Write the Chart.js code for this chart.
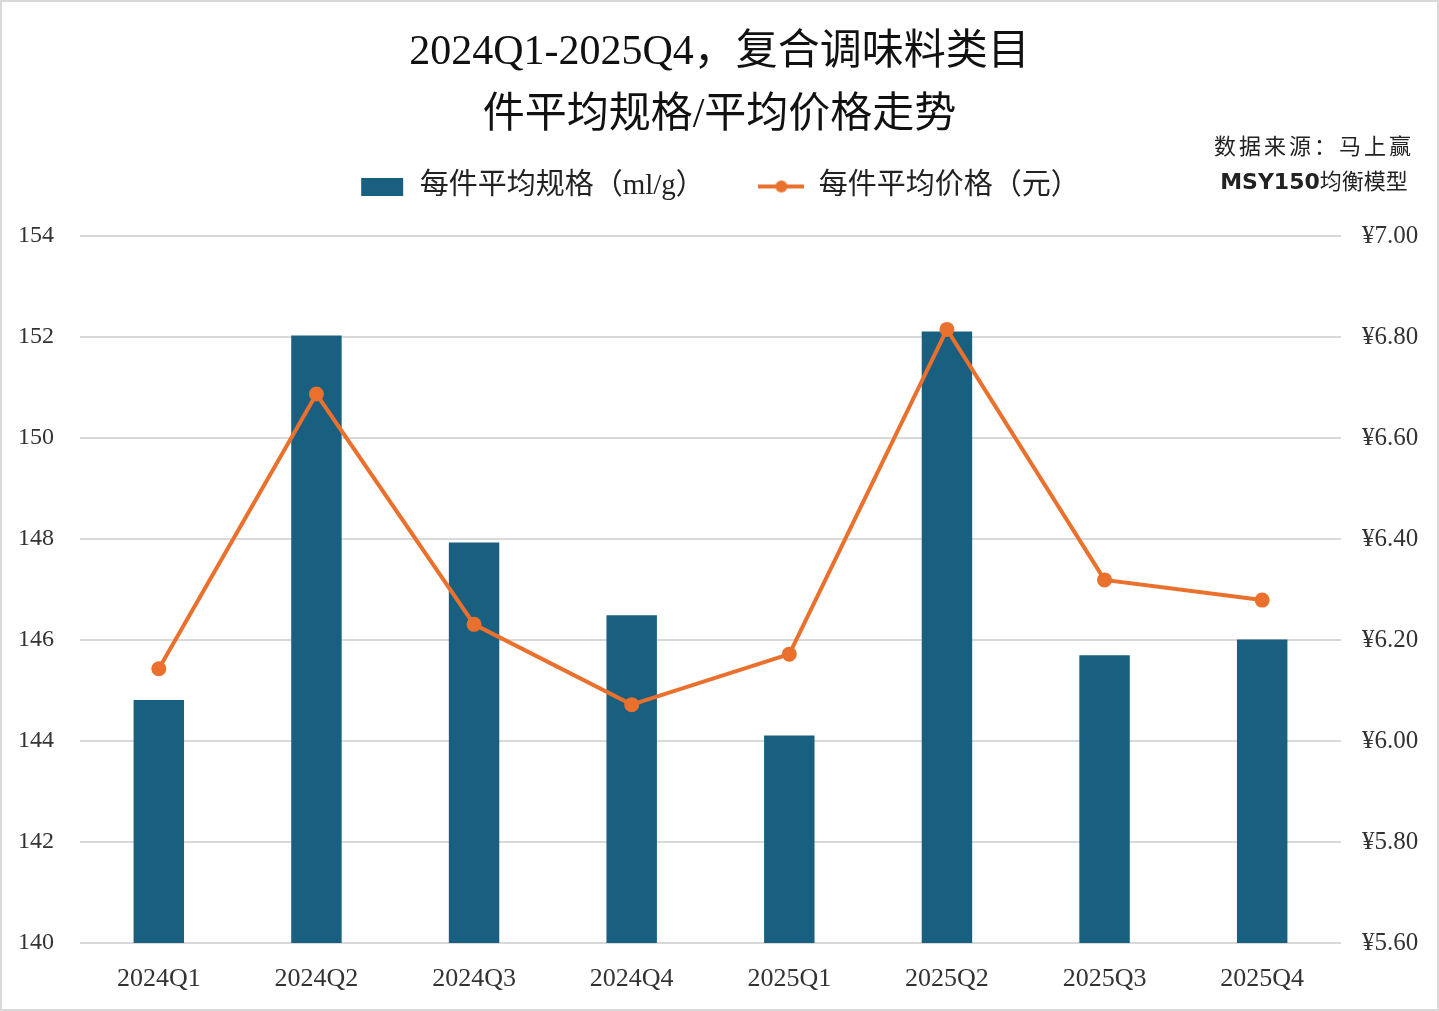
<!DOCTYPE html>
<html>
<head>
<meta charset="utf-8">
<script src="https://cdn.jsdelivr.net/npm/chart.js@4"></script>
<style>
  html, body { margin: 0; padding: 0; background: #fff; overflow: hidden; }
  #wrap { position: relative; width: 1439px; height: 1011px; }
  #graficaCombo { display: block; }
  #marco { position: absolute; left: 0; top: 0; width: 1439px; height: 1011px; box-sizing: border-box;
           border: 2px solid #d9d9d9; pointer-events: none; }
  #fuente { position: absolute; left: 1200px; top: 129px; width: 228px; text-align: center;
            font-family: 'Liberation Serif', 'Noto Sans CJK SC', serif; font-size: 22px; line-height: 35px; color: #222; }
  #fuente .l1 { letter-spacing: 3px; }
  #fuente b { font-family: 'DejaVu Sans', 'Noto Sans CJK SC', sans-serif; font-weight: 600; }
</style>
</head>
<body>
<div id="wrap">
  <canvas id="graficaCombo" width="1439" height="1011"></canvas>
  <div id="marco"></div>
  <div id="fuente"><span class="l1">数据来源：马上赢</span><br><b>MSY150</b>均衡模型</div>
</div>
<script>
const trimestres = ['2024Q1', '2024Q2', '2024Q3', '2024Q4', '2025Q1', '2025Q2', '2025Q3', '2025Q4'];
const especificacion = [144.81, 152.03, 147.93, 146.49, 144.11, 152.11, 145.70, 146.01];
const precio = [6.143, 6.687, 6.231, 6.072, 6.172, 6.815, 6.319, 6.279];
const tituloLineas = ['2024Q1-2025Q4，复合调味料类目', '件平均规格/平均价格走势'];
const nombreBarra = '每件平均规格（ml/g）';
const nombreLinea = '每件平均价格（元）';

const AZUL = '#185f80';
const NARANJA = '#e9712d';
const SERIF = "'Liberation Serif', 'Noto Sans CJK SC', serif";

// iconos de la leyenda
function iconoBarra() {
    const c = document.createElement('canvas');
    c.width = 44; c.height = 18;
    const g = c.getContext('2d');
    g.fillStyle = AZUL;
    g.fillRect(1, 0, 42, 18);
    return c;
}
function iconoLinea() {
    const c = document.createElement('canvas');
    c.width = 46; c.height = 14;
    const g = c.getContext('2d');
    g.strokeStyle = NARANJA; g.lineWidth = 4;
    g.beginPath(); g.moveTo(0, 7); g.lineTo(46, 7); g.stroke();
    g.fillStyle = NARANJA;
    g.beginPath(); g.arc(23, 7, 6, 0, Math.PI * 2); g.fill();
    return c;
}

const separacionLeyenda = {
    id: 'separacionLeyenda',
    beforeInit(chart) {
        if (!chart.legend) return;
        const fitOriginal = chart.legend.fit;
        chart.legend.fit = function () {
            fitOriginal.bind(chart.legend)();
            this.height += 25;
        };
    }
};

const ctx = document.getElementById('graficaCombo').getContext('2d');
new Chart(ctx, {
    data: {
        labels: trimestres,
        datasets: [{
            type: 'bar',
            label: nombreBarra,
            data: especificacion,
            backgroundColor: AZUL,
            yAxisID: 'y',
            barPercentage: 0.32,
            categoryPercentage: 1,
            order: 1
        }, {
            type: 'line',
            label: nombreLinea,
            data: precio,
            borderColor: NARANJA,
            backgroundColor: NARANJA,
            borderWidth: 4,
            pointRadius: 5.5,
            pointHoverRadius: 6,
            tension: 0,
            yAxisID: 'y1',
            order: 0
        }]
    },
    options: {
        responsive: false,
        animation: false,
        devicePixelRatio: 1,
        layout: { padding: { left: 0, right: 0, top: 0, bottom: 0 } },
        plugins: {
            title: {
                display: true,
                text: tituloLineas,
                color: '#111',
                font: { family: SERIF, size: 42, weight: 'normal', lineHeight: 1.5 },
                padding: { top: 21, bottom: 15 }
            },
            legend: {
                display: true,
                labels: {
                    usePointStyle: true,
                    pointStyleWidth: 46,
                    padding: 10,
                    color: '#222',
                    font: { family: SERIF, size: 29 },
                    generateLabels: function (chart) {
                        const items = Chart.defaults.plugins.legend.labels.generateLabels(chart);
                        items.sort((a, b) => a.datasetIndex - b.datasetIndex);
                        items.forEach(it => {
                            it.pointStyle = it.datasetIndex === 0 ? iconoBarra() : iconoLinea();
                            if (it.datasetIndex === 0) it.text = it.text + '      ';
                        });
                        return items;
                    }
                }
            },
            tooltip: { enabled: false }
        },
        scales: {
            x: {
                grid: { display: false },
                border: { display: false },
                ticks: { color: '#333', font: { family: SERIF, size: 26 }, padding: 13 },
                afterFit: function (scale) { scale.height = 68; }
            },
            y: {
                position: 'left',
                min: 140,
                max: 154,
                ticks: { stepSize: 2, color: '#333', font: { family: SERIF, size: 24 }, padding: 26 },
                grid: { color: '#d9d9d9', lineWidth: 2, drawTicks: false },
                border: { display: false },
                afterFit: function (scale) { scale.width = 80; }
            },
            y1: {
                position: 'right',
                min: 5.6,
                max: 7.0,
                ticks: {
                    stepSize: 0.2,
                    color: '#333',
                    font: { family: SERIF, size: 25 },
                    padding: 21,
                    callback: v => '¥' + Number(v).toFixed(2)
                },
                grid: { display: false, drawTicks: false },
                border: { display: false },
                afterFit: function (scale) { scale.width = 98; }
            }
        }
    },
    plugins: [separacionLeyenda]
});
</script>
</body>
</html>
